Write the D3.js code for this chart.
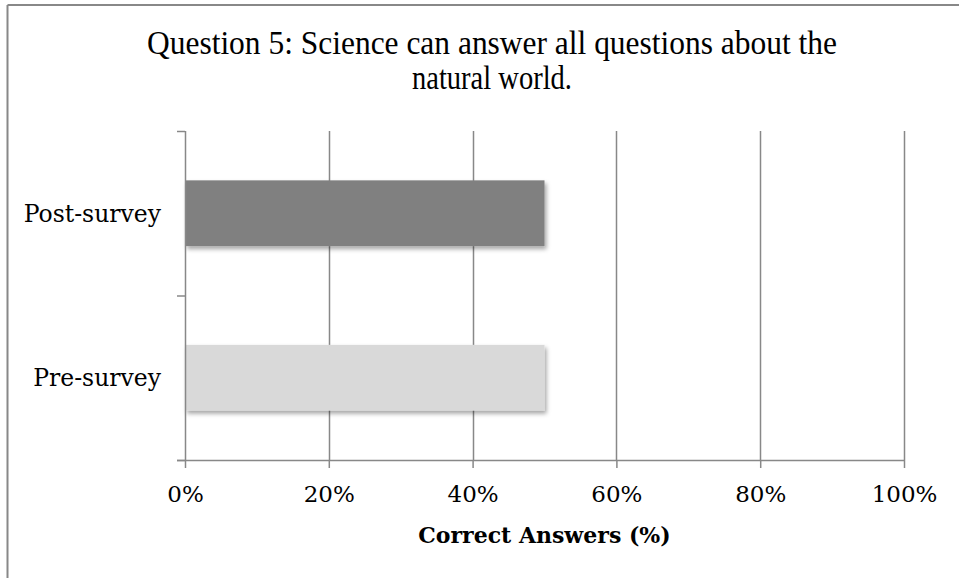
<!DOCTYPE html>
<html><head><meta charset="utf-8">
<script src="https://cdn.jsdelivr.net/npm/d3@7"></script>
<style>body{margin:0;background:#fff}svg{display:block}</style>
</head><body>
<script>
const titleLines = ["Question 5: Science can answer all questions about the", "natural world."];
const categories = ["Pre-survey", "Post-survey"];
const values = [50, 50];
const barColors = ["#d9d9d9", "#808080"];
const xTicks = [0, 20, 40, 60, 80, 100];
const xTitle = "Correct Answers (%)";

const W = 959, H = 578;
const m = {left: 185, right: 55, top: 131, bottom: 118};
const svg = d3.select("body").append("svg").attr("width", W).attr("height", H);

const defs = svg.append("defs");
const f = defs.append("filter").attr("id", "sh").attr("x", "-10%").attr("y", "-20%").attr("width", "130%").attr("height", "160%");
f.append("feDropShadow").attr("dx", 2).attr("dy", 3).attr("stdDeviation", 2).attr("flood-color", "#000").attr("flood-opacity", 0.35);

// frame
svg.append("line").attr("x1", 7.5).attr("x2", W).attr("y1", 5).attr("y2", 5).attr("stroke", "#888").attr("stroke-width", 2);
svg.append("line").attr("x1", 7.5).attr("x2", 7.5).attr("y1", 5).attr("y2", H).attr("stroke", "#888").attr("stroke-width", 2);

const x = d3.scaleLinear().domain([0, 100]).range([m.left, W - m.right]);
const y = d3.scaleBand().domain(categories.slice().reverse()).range([m.top, H - m.bottom]).paddingInner(0.6).paddingOuter(0.3);
const yb = d3.scaleBand().domain(categories.slice().reverse()).range([m.top, H - m.bottom]);

// gridlines
svg.append("g").selectAll("line").data(xTicks.filter(d => d > 0)).join("line")
  .attr("x1", d => Math.round(x(d)) + 0.5).attr("x2", d => Math.round(x(d)) + 0.5)
  .attr("y1", m.top).attr("y2", H - m.bottom)
  .attr("stroke", "#888").attr("stroke-width", 1.5);

// bars
svg.append("g").selectAll("rect").data(categories).join("rect")
  .attr("x", x(0)).attr("y", d => y(d)).attr("height", y.bandwidth())
  .attr("width", (d, i) => x(values[i]) - x(0))
  .attr("fill", (d, i) => barColors[i]).attr("filter", "url(#sh)");

// x axis
const xa = svg.append("g").attr("transform", `translate(0,${H - m.bottom})`)
  .call(d3.axisBottom(x).tickValues(xTicks).tickFormat(d => d + "%").tickSize(8).tickSizeOuter(0).tickPadding(18));
xa.select(".domain").attr("stroke", "#888").attr("stroke-width", 1.5).attr("d", `M${m.left - 8},0.5H${W - m.right}`);
xa.selectAll(".tick line").attr("stroke", "#888").attr("stroke-width", 1.5);
xa.selectAll("text").attr("font-family", "DejaVu Serif").attr("font-size", 23).attr("fill", "#000");

// y axis
const ya = svg.append("g").attr("transform", `translate(${m.left},0)`);
ya.append("line").attr("x1", 0.5).attr("x2", 0.5).attr("y1", m.top).attr("y2", H - m.bottom).attr("stroke", "#888").attr("stroke-width", 1.5);
const yTickPos = [m.top, ...categories.slice().reverse().map(c => yb(c) + yb.bandwidth())];
ya.selectAll("line.t").data(yTickPos).join("line").attr("class", "t")
  .attr("x1", -8).attr("x2", 0).attr("y1", d => d + 0.5).attr("y2", d => d + 0.5).attr("stroke", "#888").attr("stroke-width", 1.5);
ya.selectAll("text").data(categories).join("text")
  .attr("x", -24).attr("y", d => y(d) + y.bandwidth() / 2).attr("dy", "0.37em")
  .attr("text-anchor", "end").attr("font-family", "DejaVu Serif").attr("font-size", 23.5).text(d => d);

// axis title
svg.append("text").attr("x", (x(0) + x(100)) / 2).attr("y", 543).attr("text-anchor", "middle")
  .attr("font-family", "DejaVu Serif").attr("font-weight", "bold").attr("font-size", 22).text(xTitle);

// chart title
const tLen = [690, 160];
svg.append("g").selectAll("text").data(titleLines).join("text")
  .attr("x", 492).attr("y", (d, i) => 54 + i * 35).attr("text-anchor", "middle")
  .attr("font-family", "Liberation Serif").attr("font-size", 33)
  .attr("textLength", (d, i) => tLen[i]).attr("lengthAdjust", "spacingAndGlyphs").text(d => d);
</script>
</body></html>
